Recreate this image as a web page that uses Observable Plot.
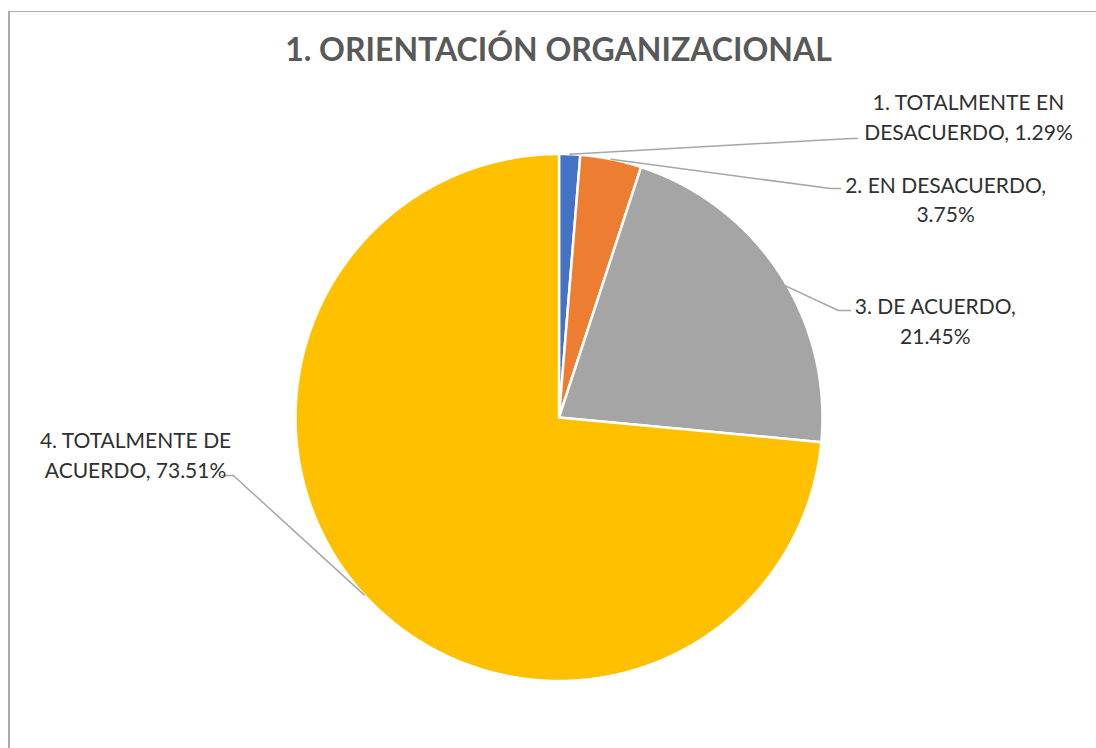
<!DOCTYPE html>
<html>
<head>
<meta charset="utf-8">
<script src="https://cdn.jsdelivr.net/npm/d3@7"></script>
<script src="https://cdn.jsdelivr.net/npm/@observablehq/plot@0.6"></script>
<style>
  html, body { margin: 0; padding: 0; background: #fff; overflow: hidden; }
  #wrap { position: relative; width: 1096px; height: 748px; }
  #border { position: absolute; left: 8px; top: 11px; width: 1200px; height: 900px;
            border-left: 2px solid #ABABAB; border-top: 1px solid #ABABAB; }
  #chart { position: absolute; left: 0; top: 0; }
</style>
</head>
<body>
<div id="wrap"><div id="border"></div><div id="chart"></div></div>
<script>
// ---- data ----
const title = "1. ORIENTACIÓN ORGANIZACIONAL";
const categories = [
  "1. TOTALMENTE EN DESACUERDO",
  "2. EN DESACUERDO",
  "3. DE ACUERDO",
  "4. TOTALMENTE DE ACUERDO"
];
const percents = [1.29, 3.75, 21.45, 73.51];
const colors = ["#4472C4", "#ED7D31", "#A5A5A5", "#FFC000"];

// ---- layout (pie radius = 1 unit, centre at 0,0) ----
const W = 1096, H = 748, CX = 558.5, CY = 417, R = 263.5;
const labelLayout = [
  {firstLineWords: 3, tx: 1.554, ty: 1.146, r0: 1.0,  ex: 1.107, ey: 1.059, fx: 1.133},
  {firstLineWords: 3, tx: 1.467, ty: 0.833, r0: 1.0,  ex: 1.030, ey: 0.869, fx: 1.068},
  {firstLineWords: 3, tx: 1.428, ty: 0.372, r0: 0.96, ex: 1.060, ey: 0.406, fx: 1.106},
  {firstLineWords: 3, tx: -1.607, ty: -0.137, r0: 1.0, ex: -1.236, ey: -0.220, fx: -1.277}
];

const pie = d3.pie().sort(null).value(d => d)(percents);

// slice polygons
const slicePts = [];
pie.forEach((p, i) => {
  slicePts.push({cat: categories[i], x: 0, y: 0});
  const n = Math.max(2, Math.ceil((p.endAngle - p.startAngle) / (Math.PI / 360)));
  for (let k = 0; k <= n; k++) {
    const a = p.startAngle + (p.endAngle - p.startAngle) * k / n;
    slicePts.push({cat: categories[i], x: Math.sin(a), y: Math.cos(a)});
  }
  slicePts.push({cat: categories[i], x: 0, y: 0});
});

// labels and leader lines
const labels = [], leaders = [];
pie.forEach((p, i) => {
  const L = labelLayout[i];
  const words = `${categories[i]}, ${percents[i].toFixed(2)}%`.split(" ");
  const text = words.slice(0, L.firstLineWords).join(" ") + "\n" + words.slice(L.firstLineWords).join(" ");
  labels.push({x: L.tx, y: L.ty, text});
  const mid = (p.startAngle + p.endAngle) / 2;
  leaders.push({k: i, x: L.r0 * Math.sin(mid), y: L.r0 * Math.cos(mid)});
  leaders.push({k: i, x: L.ex, y: L.ey});
  leaders.push({k: i, x: L.fx, y: L.ey});
});

const chart = Plot.plot({
  width: W, height: H, margin: 0,
  x: {domain: [-CX / R, (W - CX) / R], axis: null},
  y: {domain: [-(H - CY) / R, CY / R], axis: null},
  color: {domain: categories, range: colors},
  style: {background: "transparent"},
  marks: [
    Plot.line(slicePts, {x: "x", y: "y", z: "cat", fill: "cat", stroke: "white", strokeWidth: 2.5, strokeLinejoin: "round", curve: "linear"}),
    Plot.line(leaders, {x: "x", y: "y", z: "k", stroke: "#A6A6A6", strokeWidth: 1.5, curve: "linear"}),
    Plot.text(labels, {x: "x", y: "y", text: "text", fontFamily: "Lato", fontSize: 21, lineHeight: 1.4, fill: "#303030", lineAnchor: "middle", textAnchor: "middle"}),
    Plot.text([title], {frameAnchor: "top", dx: 10, dy: 50, text: d => d, fontFamily: "Lato", fontWeight: "bold", fontSize: 32, fill: "#595959", lineAnchor: "middle"})
  ]
});
document.getElementById("chart").appendChild(chart);
</script>
</body>
</html>
